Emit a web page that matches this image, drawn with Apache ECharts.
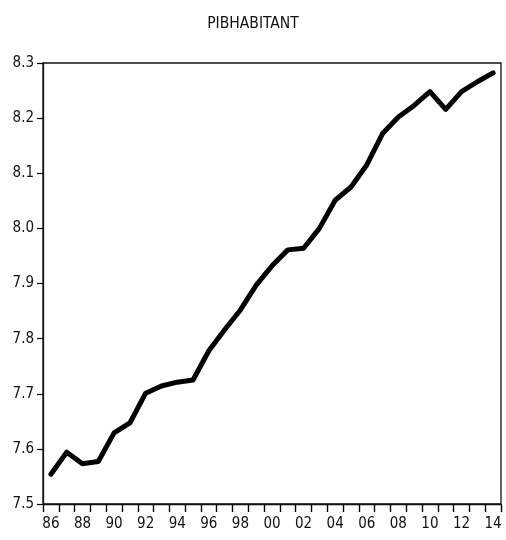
<!DOCTYPE html>
<html>
<head>
<meta charset="utf-8">
<script src="https://cdn.jsdelivr.net/npm/echarts@6/dist/echarts.min.js"></script>
<style>html,body{margin:0;padding:0;background:#fff;}#c{width:506px;height:540px;}</style>
</head>
<body>
<div id="c"></div>
<script>
var categories = ['86','87','88','89','90','91','92','93','94','95','96','97','98','99','00','01','02','03','04','05','06','07','08','09','10','11','12','13','14'];
var pibhabitant = [7.554,7.594,7.573,7.577,7.629,7.647,7.701,7.714,7.721,7.725,7.778,7.816,7.852,7.897,7.932,7.961,7.964,8.000,8.051,8.075,8.115,8.172,8.202,8.223,8.248,8.216,8.248,8.266,8.282];
var yMin = 7.5, yMax = 8.3, yStep = 0.1;
var titleText = 'PIBHABITANT';
var FONT = '"DejaVu Sans Condensed", "Liberation Sans Narrow", "Liberation Sans", sans-serif';

var chart = echarts.init(document.getElementById('c'), null, {renderer: 'canvas'});
chart.setOption({
  animation: false,
  backgroundColor: '#fff',
  title: {
    text: titleText, left: 'center', top: 11,
    textStyle: {fontFamily: FONT, fontSize: 15.5, fontWeight: 'normal', color: '#111'}
  },
  grid: {left: 43, right: 5, top: 63, bottom: 36, show: true, borderColor: '#111', borderWidth: 1.3, backgroundColor: '#fff'},
  xAxis: {
    type: 'category', data: categories, boundaryGap: true,
    axisLine: {show: true, lineStyle: {color: '#111', width: 1.3}},
    axisTick: {show: true, interval: 0, inside: false, length: 8, lineStyle: {color: '#000', width: 1.4}},
    axisLabel: {interval: 1, fontFamily: FONT, fontSize: 15, color: '#111', margin: 13}
  },
  yAxis: {
    type: 'value', min: yMin, max: yMax, interval: yStep,
    axisLine: {show: true, lineStyle: {color: '#111', width: 1.3}},
    axisTick: {show: true, inside: false, length: 6, lineStyle: {color: '#000', width: 1.2}},
    splitLine: {show: false},
    axisLabel: {fontFamily: FONT, fontSize: 15, color: '#111', margin: 9, formatter: function (v) { return v.toFixed(1); }}
  },
  series: [{
    type: 'line', data: pibhabitant, showSymbol: false, symbol: 'none',
    lineStyle: {color: '#000', width: 5, join: 'round', cap: 'round'}
  }]
});
</script>
</body>
</html>
